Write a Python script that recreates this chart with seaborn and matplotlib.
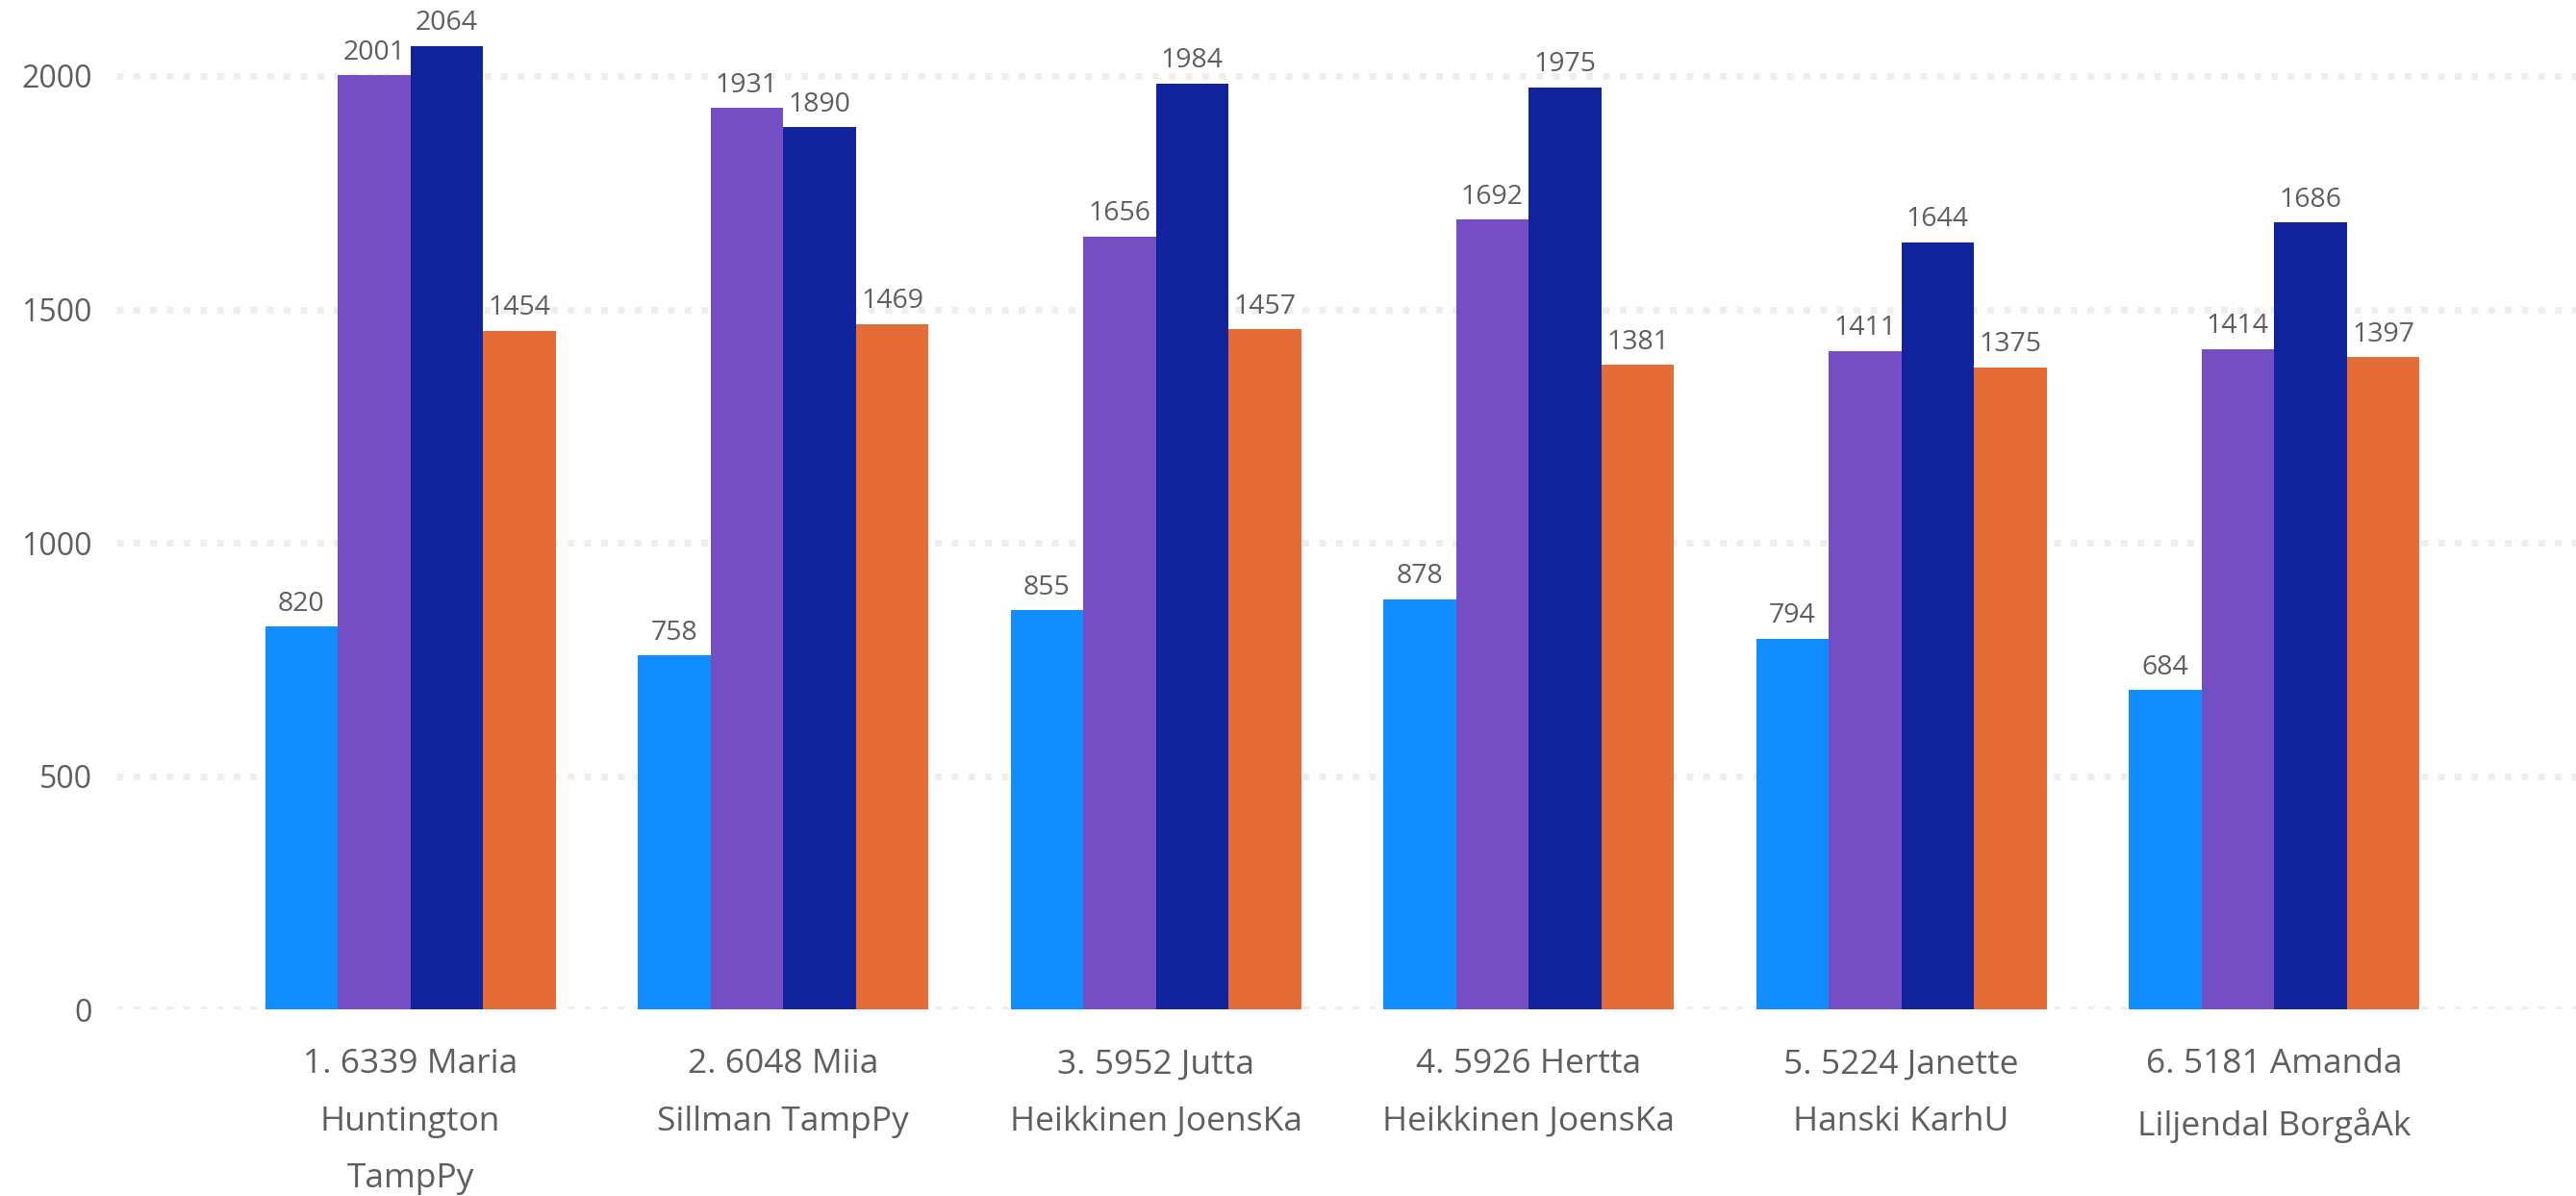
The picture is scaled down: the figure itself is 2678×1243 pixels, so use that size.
import matplotlib
matplotlib.use("Agg")
import matplotlib.pyplot as plt
import pandas as pd
import seaborn as sns

### Data ###
players = ["1. 6339 Maria\nHuntington\nTampPy",
           "2. 6048 Miia\nSillman TampPy",
           "3. 5952 Jutta\nHeikkinen JoensKa",
           "4. 5926 Hertta\nHeikkinen JoensKa",
           "5. 5224 Janette\nHanski KarhU",
           "6. 5181 Amanda\nLiljendal BorgåAk"]
series = ["Sarja 1", "Sarja 2", "Sarja 3", "Sarja 4"]
s1 = [820, 758, 855, 878, 794, 684]
s2 = [2001, 1931, 1656, 1692, 1411, 1414]
s3 = [2064, 1890, 1984, 1975, 1644, 1686]
s4 = [1454, 1469, 1457, 1381, 1375, 1397]
yticks = [0, 500, 1000, 1500, 2000]

colors = ["#118DFF", "#744EC2", "#12239E", "#E66C37"]
txt = "#605E5C"

df = pd.DataFrame({"player": players * 4,
                   "series": sum([[s] * len(players) for s in series], []),
                   "value": s1 + s2 + s3 + s4})

### Plot ###
sns.set_style("white")
plt.rcParams["font.family"] = ["Open Sans", "DejaVu Sans"]

fig = plt.figure(figsize=(26.78, 12.43), dpi=100)
ax = fig.add_axes([0.045, 0.156, 0.955, 0.839])

sns.barplot(data=df, x="player", y="value", hue="series", order=players,
            hue_order=series, palette=colors, width=0.78, saturation=1,
            linewidth=0, legend=False, ax=ax, zorder=3)

for c in ax.containers:
    ax.bar_label(c, fmt="%d", padding=7, fontsize=20.5, color=txt)

### Format ###
ax.set_xlim(-0.79, 5.81)
ax.set_ylim(0, 2150)
ax.set_yticks(yticks)
ax.yaxis.grid(True, color="#EFEEED", linewidth=5, linestyle=(0, (1, 1.5)), zorder=0)
ax.set_axisbelow(True)
ax.tick_params(axis="y", length=0, pad=18, labelsize=23, labelcolor=txt)
ax.tick_params(axis="x", length=0, pad=29, labelsize=25.5, labelcolor=txt)
for lab in ax.get_xticklabels():
    lab.set_linespacing(1.97)
ax.set_xlabel("")
ax.set_ylabel("")
sns.despine(left=True, bottom=True)

fig.savefig("out.png", dpi=100)
